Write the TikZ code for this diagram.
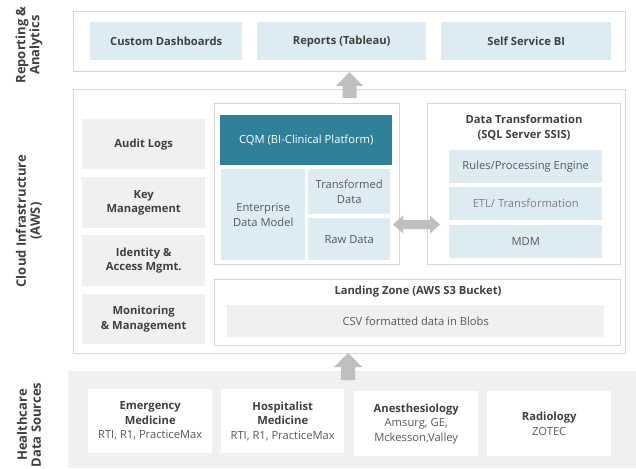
\documentclass[tikz,border=0pt]{standalone}
\usepackage{fontspec}
\setmainfont{Open Sans}
\definecolor{lblue}{HTML}{DDECF2}
\definecolor{lgray}{HTML}{F0F0F0}
\definecolor{bord}{HTML}{D6D6D6}
\definecolor{teal}{HTML}{2F8199}
\definecolor{arr}{HTML}{BFBFBF}
\definecolor{tdark}{HTML}{404040}
\definecolor{tmid}{HTML}{595959}
\definecolor{tlight}{HTML}{808080}
\newcommand{\fs}{\fontsize{11.2}{14.5}\selectfont}
\tikzset{
  frame/.style={draw=bord, line width=1.2pt, fill=white, anchor=north west, inner sep=0pt},
  bluebox/.style={fill=lblue, anchor=north west, inner sep=0pt, align=center, text=tmid, font=\fs},
  graybox/.style={fill=lgray, anchor=north west, inner sep=0pt, align=center, text=tdark, font=\fs\bfseries},
  srcbox/.style={fill=white, anchor=north west, inner sep=0pt, align=center, text=tmid, font=\fs},
  bt/.style={text=tdark, font=\fs\bfseries},
  sidelabel/.style={rotate=90, align=center, text=tdark, font=\fontsize{13}{14}\selectfont\bfseries},
  blockarrow/.style={fill=arr}
}
\begin{document}
\begin{tikzpicture}[x=1pt,y=-1pt]
\useasboundingbox (0,0) rectangle (636,468);
% side labels
\node[sidelabel] (lrep) at (29,45) {Reporting \&\\Analytics};
\node[sidelabel] (lcloud) at (29,221) {Cloud Infrastructure\\(AWS)};
\node[sidelabel] (lhc) at (29,425) {Healthcare\\Data Sources};
% reporting
\node[frame, minimum width=552, minimum height=60] (rep) at (73,11) {};
\node[bluebox, minimum width=152, minimum height=38, font=\fs\bfseries, text=tdark] (cd) at (90,22) {Custom Dashboards};
\node[bluebox, minimum width=169, minimum height=38, font=\fs\bfseries, text=tdark] (rt) at (257,22) {Reports (Tableau)};
\node[bluebox, minimum width=170, minimum height=38, font=\fs\bfseries, text=tdark] (ss) at (441,22) {Self Service BI};
% cloud
\node[frame, minimum width=552, minimum height=264] (cloud) at (73,89) {};
\node[graybox, minimum width=123, minimum height=50] (audit) at (82,119) {Audit Logs};
\node[graybox, minimum width=123, minimum height=51] (key) at (82,177) {Key\\Management};
\node[graybox, minimum width=123, minimum height=51] (iam) at (82,235) {Identity \&\\Access Mgmt.};
\node[graybox, minimum width=123, minimum height=50] (mon) at (82,294) {Monitoring\\\& Management};
% CQM container
\node[frame, minimum width=185, minimum height=161] (cqmc) at (214,103) {};
\node[fill=teal, anchor=north west, inner sep=0pt, minimum width=172, minimum height=50, text=white, font=\fs] (cqm) at (220,115) {CQM (BI-Clinical Platform)};
\node[bluebox, minimum width=84, minimum height=91] (edm) at (221,169) {Enterprise\\Data Model};
\node[bluebox, minimum width=82, minimum height=45] (td) at (308,169) {Transformed\\Data};
\node[bluebox, minimum width=82, minimum height=42] (rd) at (308,218) {Raw Data};
% data transformation
\node[frame, minimum width=193, minimum height=161] (dt) at (427,103) {};
\node[bt, align=center, anchor=north, inner sep=0pt] (dtt) at (524,115) {Data Transformation\\(SQL Server SSIS)};
\node[bluebox, minimum width=153, minimum height=33] (rules) at (449,150) {Rules/Processing Engine};
\node[bluebox, minimum width=153, minimum height=33, text=tlight] (etl) at (449,187) {ETL/ Transformation};
\node[bluebox, minimum width=153, minimum height=33] (mdm) at (449,225) {MDM};
% landing zone
\node[frame, minimum width=406, minimum height=66] (lz) at (214,279) {};
\node[bt, anchor=center] (lzt) at (418,292) {Landing Zone (AWS S3 Bucket)};
\node[fill=lgray, anchor=north west, inner sep=0pt, minimum width=377, minimum height=32, text=tmid, font=\fs] (csv) at (227,305) {CSV formatted data in Blobs};
% healthcare
\fill[lgray] (68,371) rectangle (636,468);
\node[srcbox, minimum width=124, minimum height=64] (em) at (88,389) {\textbf{\color{tdark}Emergency}\\\textbf{\color{tdark}Medicine}\\RTI, R1, PracticeMax};
\node[srcbox, minimum width=123, minimum height=64] (hm) at (221,389) {\textbf{\color{tdark}Hospitalist}\\\textbf{\color{tdark}Medicine}\\RTI, R1, PracticeMax};
\node[srcbox, minimum width=124, minimum height=65] (an) at (354,391) {\textbf{\color{tdark}Anesthesiology}\\Amsurg, GE,\\Mckesson,Valley};
\node[srcbox, minimum width=124, minimum height=65] (ra) at (487,391) {\textbf{\color{tdark}Radiology}\\ZOTEC};
% arrows
\fill[blockarrow] (342.5,98) -- (342.5,86) -- (336,86) -- (349.5,72) -- (363,86) -- (356.5,86) -- (356.5,98) -- cycle;
\fill[blockarrow] (341,380) -- (341,367) -- (334,367) -- (348,353) -- (362,367) -- (355,367) -- (355,380) -- cycle;
\fill[blockarrow] (393,224.5) -- (403,215.5) -- (403,220) -- (430,220) -- (430,215.5) -- (440,224.5) -- (430,233.5) -- (430,229) -- (403,229) -- (403,233.5) -- cycle;
\end{tikzpicture}
\end{document}
